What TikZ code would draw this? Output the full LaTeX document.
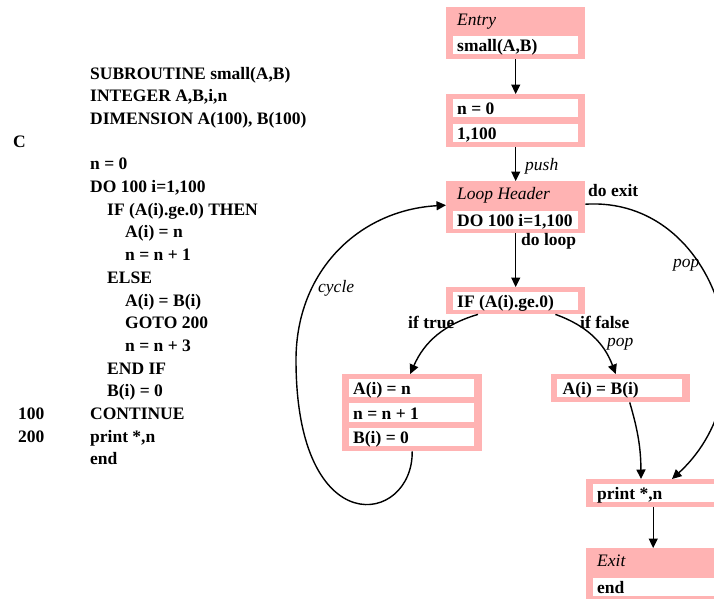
\documentclass[tikz,border=0pt]{standalone}
\usepackage{fontspec}
\setmainfont{Liberation Serif}
\usetikzlibrary{arrows.meta}
\definecolor{pinkfill}{RGB}{255,179,179}
\newcommand{\bigsz}{\fontsize{17.5}{21}\selectfont}
\tikzset{
  pinkbox/.style={fill=pinkfill, draw=none, anchor=north west, inner sep=0pt},
  whitebox/.style={fill=white, draw=none, anchor=north west, inner sep=0pt,
    minimum width=125pt, minimum height=18.5pt},
  boxtext/.style={anchor=base west, inner sep=0pt, font=\bigsz\bfseries},
  boxtitle/.style={anchor=base west, inner sep=0pt, font=\bigsz\itshape},
  codeline/.style={anchor=base west, inner sep=0pt, font=\bigsz\bfseries},
  blabel/.style={anchor=base west, inner sep=0pt, font=\bigsz\bfseries},
  ilabel/.style={anchor=base west, inner sep=0pt, font=\bigsz\itshape},
  conn/.style={line width=1.4pt, -{Triangle[length=9.5pt,width=9pt]}},
}
\begin{document}
\begin{tikzpicture}[x=1pt,y=-1pt]
\useasboundingbox (0,0) rectangle (714,598);
\fill[white] (0,0) rectangle (714,598);

% ---------- code listing ----------
\node[codeline] (c1)  at (90,79)    {SUBROUTINE small(A,B)};
\node[codeline] (c2)  at (90,101.7) {INTEGER A,B,i,n};
\node[codeline] (c3)  at (90,124.4) {DIMENSION A(100), B(100)};
\node[codeline] (c4)  at (13,147.1) {C};
\node[codeline] (c5)  at (90,169.8) {n = 0};
\node[codeline] (c6)  at (90,192.5) {DO 100 i=1,100};
\node[codeline] (c7)  at (107,215.2) {IF (A(i).ge.0) THEN};
\node[codeline] (c8)  at (125,237.9) {A(i) = n};
\node[codeline] (c9)  at (125,260.6) {n = n + 1};
\node[codeline] (c10) at (107,283.3) {ELSE};
\node[codeline] (c11) at (125,306)   {A(i) = B(i)};
\node[codeline] (c12) at (125,328.7) {GOTO 200};
\node[codeline] (c13) at (125,351.4) {n = n + 3};
\node[codeline] (c14) at (107,374.1) {END IF};
\node[codeline] (c15) at (107,396.8) {B(i) = 0};
\node[codeline] (c16a) at (18,419.5) {100};
\node[codeline] (c16) at (90,419.5) {CONTINUE};
\node[codeline] (c17a) at (18,442.2) {200};
\node[codeline] (c17) at (90,442.2) {print *,n};
\node[codeline] (c18) at (90,464.9) {end};

% ---------- flow graph boxes ----------
% Entry
\node[pinkbox, minimum width=139pt, minimum height=52pt] (entry) at (446,7) {};
\node[boxtitle] (entryt) at (457,25) {Entry};
\node[whitebox] (entryw) at (453,35.5) {};
\node[boxtext] (entryx) at ([xshift=4pt,yshift=2.5pt]entryw.south west) {small(A,B)};
% n = 0 / 1,100
\node[pinkbox, minimum width=139pt, minimum height=53pt] (b2) at (446,94) {};
\node[whitebox] (b2w1) at (453,98.5) {};
\node[boxtext] (b2x1) at ([xshift=4pt,yshift=2.5pt]b2w1.south west) {n = 0};
\node[whitebox] (b2w2) at (453,123.5) {};
\node[boxtext] (b2x2) at ([xshift=4pt,yshift=2.5pt]b2w2.south west) {1,100};
% Loop header
\node[pinkbox, minimum width=139pt, minimum height=52pt] (lh) at (446,181) {};
\node[boxtitle] (lht) at (457,199) {Loop Header};
\node[whitebox] (lhw) at (453,210.5) {};
\node[boxtext] (lhx) at ([xshift=4pt,yshift=2.5pt]lhw.south west) {DO 100 i=1,100};
% IF
\node[pinkbox, minimum width=139pt, minimum height=27pt] (ifb) at (446,287) {};
\node[whitebox] (ifw) at (453,291.5) {};
\node[boxtext] (ifx) at ([xshift=4pt,yshift=2.5pt]ifw.south west) {IF (A(i).ge.0)};
% left block
\node[pinkbox, minimum width=140pt, minimum height=77pt] (lb) at (342,374) {};
\node[whitebox] (lbw1) at (349,378.5) {};
\node[boxtext] (lbx1) at ([xshift=4pt,yshift=2.5pt]lbw1.south west) {A(i) = n};
\node[whitebox] (lbw2) at (349,403) {};
\node[boxtext] (lbx2) at ([xshift=4pt,yshift=2.5pt]lbw2.south west) {n = n + 1};
\node[whitebox] (lbw3) at (349,427.5) {};
\node[boxtext] (lbx3) at ([xshift=4pt,yshift=2.5pt]lbw3.south west) {B(i) = 0};
% right block
\node[pinkbox, minimum width=139pt, minimum height=28pt] (rb) at (551,374) {};
\node[whitebox] (rbw) at (557,378.5) {};
\node[boxtext] (rbx) at ([xshift=5.5pt,yshift=2.5pt]rbw.south west) {A(i) = B(i)};
% print
\node[pinkbox, minimum width=139pt, minimum height=28pt] (pr) at (586,479) {};
\node[whitebox] (prw) at (593,483.5) {};
\node[boxtext] (prx) at ([xshift=4pt,yshift=2.5pt]prw.south west) {print *,n};
% Exit
\node[pinkbox, minimum width=139pt, minimum height=52pt] (ex) at (586,548) {};
\node[boxtitle] (ext) at (597,566) {Exit};
\node[whitebox] (exw) at (593,577.5) {};
\node[boxtext] (exx) at ([xshift=4pt,yshift=2.5pt]exw.south west) {end};

% ---------- connectors ----------
\draw[conn] (entry.south) -- (b2.north);
\draw[conn] (b2.south) -- (lh.north);
\draw[conn] (lh.south) -- (ifb.north);
\draw[conn] ([xshift=32pt]ifb.south west) to[bend right=25] ([xshift=-2pt]lb.north);
\draw[conn] ([xshift=-30pt]ifb.south east) to[bend left=25] ([xshift=-5pt]rb.north);
\draw[conn] ([xshift=9pt]rb.south) to[bend left=8] ([xshift=55pt]pr.north west);
\draw[conn] ([yshift=3pt]lh.east) .. controls (718,196) and (775,385) .. ([xshift=86pt]pr.north west);
\draw[conn] ([xshift=-2.5pt]pr.south) -- ([xshift=-2.5pt]ex.north);
\draw[conn] (lb.south) .. controls (413,525) and (296,545) .. (296,360)
  .. controls (296,270) and (360,210) .. ([yshift=2pt]lh.west);

% ---------- labels ----------
\node[ilabel] (lpush) at (525,170) {push};
\node[blabel] (ldoloop) at (521,245) {do loop};
\node[blabel] (ldoexit) at (588,196) {do exit};
\node[ilabel] (lpop1) at (673,267) {pop};
\node[ilabel] (lcycle) at (318,292) {cycle};
\node[blabel] (liftrue) at (408,328) {if true};
\node[blabel] (liffalse) at (580,328) {if false};
\node[ilabel] (lpop2) at (607,346) {pop};
\end{tikzpicture}
\end{document}
